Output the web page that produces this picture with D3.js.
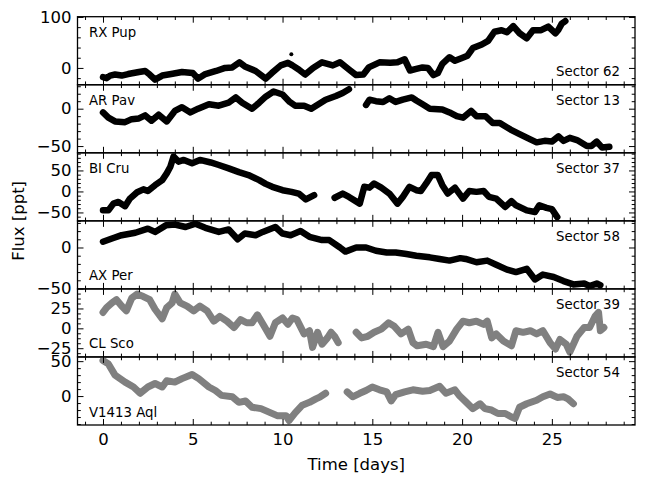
<!DOCTYPE html>
<html>
<head>
<meta charset="utf-8">
<script src="https://cdn.jsdelivr.net/npm/d3@7"></script>
<style>
  body { margin: 0; background: #fff; }
  text { font-family: "DejaVu Sans", sans-serif; fill: #000; }
</style>
</head>
<body>
<div id="chart"></div>
<script>
// light curves, [time (days), flux (ppt)], null = gap
const rxPup = [[0,-18],[0.2,-20],[0.4,-15],[0.67,-13],[1.04,-15],[1.4,-12],[2.0,-8],[2.35,-6],[2.6,-13],[2.9,-23],[3.3,-15],[3.8,-12],[4.4,-8],[5.0,-10],[5.3,-21],[5.7,-12],[6.3,-6],[6.8,0],[7.2,1],[7.6,11],[7.9,3],[8.5,-6],[9.06,-21],[9.4,-10],[9.9,5],[10.3,10],[10.55,5],[10.9,-3],[11.26,-13],[11.7,0],[12.2,11],[12.8,5],[13.2,11],[13.7,-3],[14.1,-14],[14.5,-13],[14.8,1],[15.4,11],[16.0,10],[16.4,11],[16.8,17],[17.1,-5],[17.45,-2],[17.8,1],[18.1,0],[18.4,-14],[18.65,-10],[18.9,8],[19.3,21],[19.6,14],[19.96,19],[20.3,24],[20.6,39],[21.1,46],[21.45,53],[21.8,71],[22.2,74],[22.5,70],[22.85,82],[23.2,68],[23.6,58],[23.95,74],[24.4,74],[24.8,81],[25.2,68],[25.35,74],[25.55,87],[25.75,92]];
const rxPupOutlier = [[10.49,27]];
const arPav = [[0,-5],[0.3,-12],[0.67,-17],[1.23,-18],[1.6,-14],[2.0,-13],[2.35,-9],[2.7,-16],[3.1,-8],[3.55,-17],[4.0,-3],[4.4,2],[4.87,-5],[5.3,0],[5.9,6],[6.45,4],[7.0,8],[7.4,15],[7.75,8],[8.3,0],[8.7,8],[9.06,16],[9.5,23],[10.0,19],[10.4,9],[10.7,4],[11.2,4],[11.6,0],[12.0,6],[12.4,12],[12.97,17],[13.35,21],[13.7,26],null,[14.65,5],[14.84,12],[15.2,10],[15.6,9],[15.95,14],[16.3,9],[16.7,12],[17.2,15],[17.45,11],[17.8,6],[18.2,0],[18.9,-1],[19.3,-5],[19.7,-10],[20.05,-12],[20.5,-3],[20.8,-10],[21.3,-10],[21.7,-19],[22.1,-19],[22.7,-28],[23.2,-34],[23.8,-41],[24.15,-45],[24.6,-43],[25.0,-44],[25.37,-37],[25.65,-43],[26.0,-39],[26.4,-42],[26.95,-50],[27.2,-50],[27.5,-44],[27.8,-52],[28.2,-51]];
const biCru = [[0,-45],[0.3,-45],[0.58,-29],[0.86,-25],[1.23,-35],[1.5,-17],[1.9,-2],[2.25,5],[2.5,1],[2.9,15],[3.3,27],[3.55,43],[3.75,59],[3.93,83],[4.2,71],[4.5,75],[4.96,67],[5.4,75],[6.0,69],[6.45,63],[7.0,55],[7.57,46],[8.1,39],[8.7,27],[9.06,18],[9.43,11],[10.0,3],[10.5,-1],[10.9,-5],[11.3,-19],[11.76,-9],null,[12.9,-15],[13.35,-5],[13.7,-13],[14.3,-29],[14.55,11],[14.84,9],[15.1,19],[15.5,9],[15.95,-5],[16.4,-29],[16.7,-13],[17.07,11],[17.45,3],[17.7,1],[18.0,19],[18.3,39],[18.65,39],[18.9,15],[19.2,-5],[19.6,9],[20.05,-17],[20.4,1],[20.8,-1],[21.2,1],[21.5,-13],[21.9,-17],[22.4,-37],[22.75,-23],[23.0,-33],[23.6,-45],[24.06,-49],[24.3,-33],[24.7,-39],[25.0,-42],[25.3,-61]];
const axPer = [[0,7],[0.5,11],[1.04,15],[1.8,18],[2.5,23],[2.9,19],[3.5,27],[4.0,28],[4.6,25],[5.15,29],[5.7,24],[6.45,19],[7.0,22],[7.5,10],[7.9,17],[8.5,15],[8.9,19],[9.6,25],[10.0,17],[10.45,15],[11.0,20],[11.5,13],[12.2,9],[12.6,9],[13.2,0],[13.5,-5],[14.1,0],[14.65,0],[15.2,-4],[15.8,-6],[16.3,-6],[16.9,-8],[17.45,-10],[18.2,-12],[18.75,-14],[19.3,-16],[19.9,-13],[20.2,-14],[20.8,-18],[21.4,-16],[21.9,-21],[22.5,-27],[23.0,-30],[23.6,-26],[24.06,-39],[24.5,-33],[25.1,-36],[25.65,-41],[26.2,-45],[26.8,-44],[27.1,-47],[27.5,-44],[27.7,-46]];
const clSco = [[0,20],[0.2,26],[0.5,32],[0.75,36],[1.04,28],[1.3,22],[1.6,38],[1.9,43],[2.25,40],[2.6,36],[2.9,24],[3.3,12],[3.55,26],[3.85,32],[4.0,43],[4.3,32],[4.68,28],[5.05,22],[5.4,28],[5.8,22],[6.17,9],[6.5,15],[6.9,9],[7.3,1],[7.66,11],[8.0,7],[8.3,7],[8.6,17],[8.97,3],[9.3,-10],[9.6,7],[10.0,13],[10.3,5],[10.55,13],[10.8,11],[11.2,-7],[11.5,-3],[11.67,-24],[11.95,-5],[12.2,-20],[12.5,-12],[12.7,-5],[12.9,-10],[13.1,-18],null,[14.1,-5],[14.4,-12],[14.75,-10],[15.1,-5],[15.5,-1],[15.9,7],[16.2,3],[16.6,-7],[17.0,-1],[17.26,-18],[17.5,-22],[18.0,-20],[18.4,-23],[18.66,-5],[18.94,-23],[19.3,-16],[19.7,-1],[20.05,9],[20.4,7],[20.8,9],[21.2,5],[21.4,9],[21.65,-12],[21.9,-7],[22.3,-16],[22.75,-22],[23.0,-3],[23.4,-5],[23.8,-3],[24.15,-7],[24.5,-3],[24.9,-18],[25.2,-26],[25.45,-14],[25.8,-20],[26.0,-30],[26.4,-10],[26.8,1],[27.1,1],[27.4,15],[27.6,20],[27.7,-3],[27.9,1]];
const v1413Aql = [[0,51],[0.3,46],[0.67,30],[1.23,20],[1.7,13],[2.07,4],[2.5,13],[2.9,18],[3.3,13],[3.55,22],[4.0,20],[4.4,25],[4.96,31],[5.33,25],[5.9,13],[6.26,8],[6.6,1],[7.2,-1],[7.57,-9],[7.94,-7],[8.3,-16],[8.8,-18],[9.25,-23],[9.7,-28],[10.2,-28],[10.36,-35],[10.7,-24],[11.1,-13],[11.5,-9],[11.86,-4],[12.1,-1],[12.4,4],null,[13.6,6],[13.9,-1],[14.3,4],[14.65,8],[15.0,13],[15.4,9],[15.8,6],[16.05,-7],[16.3,2],[16.8,6],[17.26,9],[17.8,7],[18.2,8],[18.75,14],[19.1,4],[19.6,9],[19.87,0],[20.24,-9],[20.6,-18],[21.0,-11],[21.27,-18],[21.64,-20],[22.0,-25],[22.4,-25],[22.75,-30],[22.95,-32],[23.2,-16],[23.6,-11],[24.15,-6],[24.5,-1],[24.9,3],[25.3,-2],[25.65,-1],[25.9,-4],[26.2,-11]];

const starNames = ["RX Pup", "AR Pav", "BI Cru", "AX Per", "CL Sco", "V1413 Aql"];
const sectorLabels = ["Sector 62", "Sector 13", "Sector 37", "Sector 58", "Sector 39", "Sector 54"];
const series = [rxPup, arPav, biCru, axPer, clSco, v1413Aql];
const yDomains = [[-33, 100.5], [-59, 32], [-70, 92], [-50.5, 32.5], [-36, 49.6], [-41.4, 56]];
const yTicks = [[0, 100], [-50, 0], [-50, 0, 50], [-50, 0], [-25, 0, 25], [0, 50]];
const yMinorStep = [20, 10, 10, 10, 6.25, 10];
const xDomain = [-1.42, 29.63];
const xTicks = [0, 5, 10, 15, 20, 25];

const svgW = 647, svgH = 485;
const mLeft = 77.5, mRight = 635, mTop = 16.7, mBottom = 425;
const panelH = (mBottom - mTop) / 6;
const fmt = d3.format("");

const svg = d3.select("#chart").append("svg")
  .attr("width", svgW).attr("height", svgH);
svg.append("rect").attr("width", svgW).attr("height", svgH).attr("fill", "#fff");

const x = d3.scaleLinear().domain(xDomain).range([mLeft, mRight]);
const xMinor = d3.range(-1, 30, 1).filter((d) => d % 5 !== 0);

function styleAxis(g) {
  g.select(".domain").remove();
  g.selectAll("line").attr("stroke", "#000").attr("stroke-width", 1);
  g.attr("font-family", null).attr("font-size", null);
  g.selectAll("text").style("font-size", "16.5px").attr("fill", "#000");
}

series.forEach((data, i) => {
  const y0 = mTop + i * panelH;
  const y1 = y0 + panelH;
  const y = d3.scaleLinear().domain(yDomains[i]).range([y1, y0]);
  const color = i < 4 ? "#000" : "#808080";
  const g = svg.append("g");

  // clip for the data
  g.append("clipPath").attr("id", "clip" + i)
    .append("rect").attr("x", mLeft).attr("y", y0)
    .attr("width", mRight - mLeft).attr("height", panelH);

  const line = d3.line()
    .defined((d) => d !== null)
    .x((d) => x(d[0]))
    .y((d) => y(d[1]));

  g.append("path")
    .attr("clip-path", "url(#clip" + i + ")")
    .attr("d", line(data))
    .attr("fill", "none")
    .attr("stroke", color)
    .attr("stroke-width", i < 4 ? 6.5 : 7)
    .attr("stroke-linejoin", "round")
    .attr("stroke-linecap", "round");

  if (i === 0) {
    g.selectAll("circle.out")
      .data(rxPupOutlier)
      .enter()
      .append("circle")
      .attr("cx", (d) => x(d[0]))
      .attr("cy", (d) => y(d[1]))
      .attr("r", 2)
      .attr("fill", "#000");
  }

  // y ticks
  const [lo, hi] = yDomains[i];
  const step = yMinorStep[i];
  const minorY = d3.range(Math.ceil(lo / step) * step, hi, step)
    .filter((v) => !yTicks[i].some((t) => Math.abs(t - v) < 1e-6));

  g.append("g").attr("transform", `translate(${mLeft},0)`)
    .call(d3.axisLeft(y).tickValues(yTicks[i]).tickSize(-6).tickPadding(6).tickFormat(fmt))
    .call(styleAxis);
  g.append("g").attr("transform", `translate(${mLeft},0)`)
    .call(d3.axisLeft(y).tickValues(minorY).tickSize(-3.3).tickFormat(""))
    .call(styleAxis);
  g.append("g").attr("transform", `translate(${mRight},0)`)
    .call(d3.axisRight(y).tickValues(yTicks[i]).tickSize(-6).tickFormat(""))
    .call(styleAxis);
  g.append("g").attr("transform", `translate(${mRight},0)`)
    .call(d3.axisRight(y).tickValues(minorY).tickSize(-3.3).tickFormat(""))
    .call(styleAxis);

  // x ticks on top and bottom of every panel
  g.append("g").attr("transform", `translate(0,${y0})`)
    .call(d3.axisTop(x).tickValues(xTicks).tickSize(-6).tickFormat(""))
    .call(styleAxis);
  g.append("g").attr("transform", `translate(0,${y0})`)
    .call(d3.axisTop(x).tickValues(xMinor).tickSize(-3.3).tickFormat(""))
    .call(styleAxis);
  g.append("g").attr("transform", `translate(0,${y1})`)
    .call(d3.axisBottom(x).tickValues(xTicks).tickSize(-6).tickPadding(8)
      .tickFormat(i === 5 ? fmt : ""))
    .call(styleAxis);
  g.append("g").attr("transform", `translate(0,${y1})`)
    .call(d3.axisBottom(x).tickValues(xMinor).tickSize(-3.3).tickFormat(""))
    .call(styleAxis);

  // spines
  g.append("rect")
    .attr("x", mLeft).attr("y", y0)
    .attr("width", mRight - mLeft).attr("height", panelH)
    .attr("fill", "none").attr("stroke", "#000").attr("stroke-width", 1.3);

  // star name and sector
  const nameTop = i < 3;
  g.append("text")
    .attr("x", mLeft + 11.5)
    .attr("y", nameTop ? y0 + 20.5 : y1 - 8.5)
    .style("font-size", "13.3px")
    .text(starNames[i]);
  const sectorTop = i > 0;
  g.append("text")
    .attr("x", mRight - 15)
    .attr("y", sectorTop ? y0 + 20 : y1 - 9)
    .attr("text-anchor", "end")
    .style("font-size", "13.3px")
    .text(sectorLabels[i]);
});

svg.append("text")
  .attr("x", (mLeft + mRight) / 2)
  .attr("y", 470)
  .attr("text-anchor", "middle")
  .style("font-size", "16.5px")
  .text("Time [days]");

svg.append("text")
  .attr("transform", `translate(24,${(mTop + mBottom) / 2}) rotate(-90)`)
  .attr("text-anchor", "middle")
  .style("font-size", "16.5px")
  .text("Flux [ppt]");
</script>
</body>
</html>
